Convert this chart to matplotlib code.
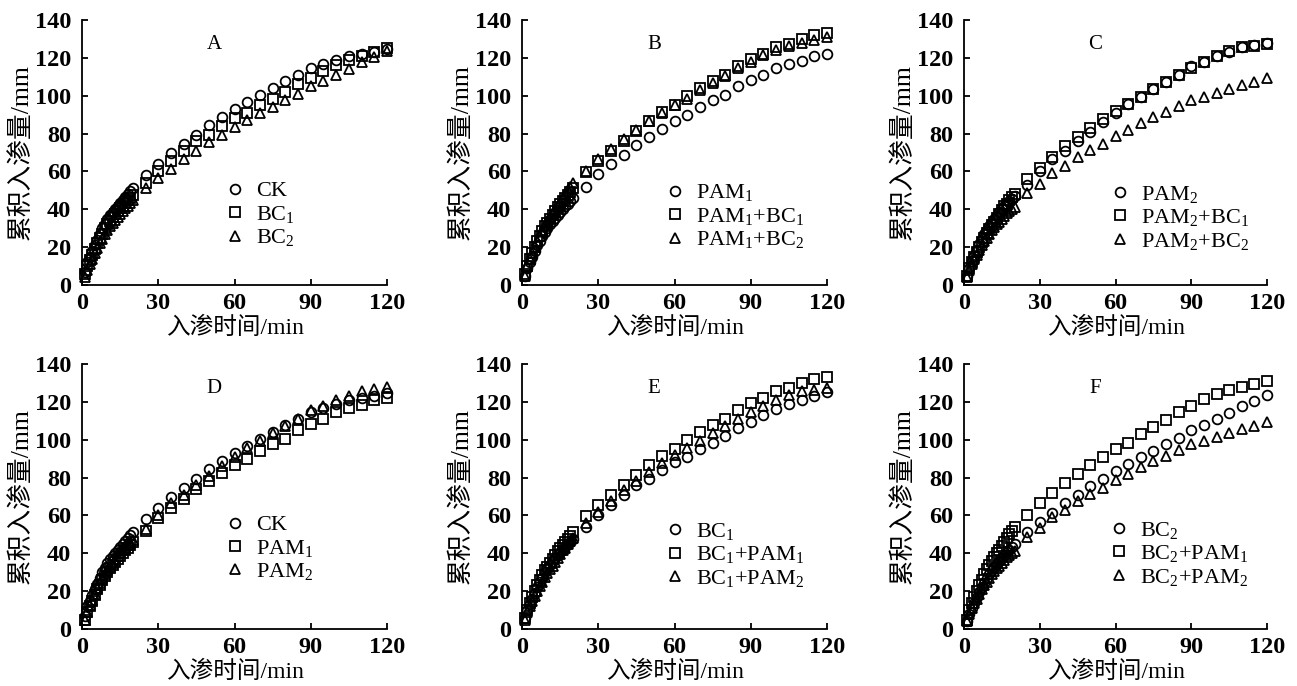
import matplotlib
matplotlib.use("Agg")
import matplotlib.pyplot as plt

plt.rcParams['font.family'] = ['Liberation Serif', 'Noto Sans CJK SC', 'DejaVu Sans']
plt.rcParams['mathtext.fontset'] = 'custom'
plt.rcParams['mathtext.rm'] = 'Liberation Serif'
plt.rcParams['mathtext.it'] = 'Liberation Serif'

# time (min)
t = [1, 2, 3, 4, 5, 6, 7, 8, 9, 10, 11, 12, 13, 14, 15, 16, 17, 18, 19, 20,
     25, 30, 35, 40, 45, 50, 55, 60, 65, 70, 75, 80, 85, 90, 95, 100, 105, 110, 115, 120]

# cumulative infiltration (mm)
CK = [7, 12, 15, 18, 21, 24, 27, 30, 32, 35, 37, 38.5, 40, 42, 43.5, 45, 46.5, 48, 49.5, 51,
      58, 64, 69.5, 74.7, 79.4, 84.4, 89, 93, 96.6, 100.6, 104, 108, 111, 114.4, 117, 119, 121, 122, 123, 124.5]
BC1 = [6, 10, 13, 16, 19, 22, 25, 27, 30, 32, 34, 36, 37.5, 39, 40.5, 42, 43.5, 45, 46, 47.5,
       54, 60, 65.5, 71, 76, 79.5, 84, 88, 91, 95, 98.5, 102, 106, 109.5, 113, 116, 119, 121, 123, 125]
BC2 = [4, 8, 11, 14, 17, 19.5, 22, 24.5, 27, 29, 31, 33, 34.5, 36, 37.5, 39, 40.5, 42, 43.5, 45,
       51, 56.5, 61.5, 66.5, 71, 75.5, 79.5, 83.5, 87, 91, 94, 97.5, 101, 105, 108, 111, 114, 118, 120.5, 123.5]
PAM1 = [5, 9, 12, 15, 18, 21, 23.5, 26, 28, 30, 32, 34, 35.5, 37, 38.5, 40, 41.5, 43, 44.5, 46,
        52, 58.8, 64, 68.5, 73.8, 78.2, 82.5, 86.5, 89.7, 94, 97.5, 100.6, 105, 108.2, 111.2, 114.4, 116.5, 118.6, 121, 121.8]
PAM2 = [5, 9, 12.5, 15.5, 18.5, 21.5, 24.5, 27, 29, 31, 33, 35, 36.5, 38.5, 40, 41.5, 43, 44.5, 45.5, 47,
        53, 60, 66.5, 71, 76, 81, 86, 91, 95.5, 99.5, 103.5, 107, 111, 115.5, 118, 121, 123, 126, 127, 128]
PAM1_BC1 = [6, 10, 14, 17, 20, 23, 26, 28.5, 31, 33, 35, 37, 39, 41, 43, 44.5, 46, 47.5, 49, 51,
            59.5, 65.7, 71, 76.3, 81.6, 86.5, 91.3, 95.3, 99.8, 104.2, 107.7, 111.2, 115.6, 119.2, 122.2, 126, 127.5, 130, 132, 133]
PAM1_BC2 = [5, 10, 14, 17, 20, 23, 26, 29, 31.5, 34, 36, 38, 40, 42, 44, 46, 48, 50, 52, 54,
            60, 66.5, 72, 77, 82, 86.5, 91, 95, 98.5, 103, 106.5, 110.5, 114.5, 118, 121.5, 124, 126.5, 128, 129.5, 131]
PAM2_BC1 = [5, 9, 12, 15, 17.5, 20, 22.5, 25, 27.5, 29.5, 31.5, 33.5, 35.5, 37.5, 39.5, 41.5, 43, 45, 46.5, 48,
            56, 62, 67.5, 73.5, 78, 83, 87.5, 92, 95.5, 99.5, 103.5, 107, 111, 114.5, 118, 121, 123.5, 125.5, 126.5, 127.5]
PAM2_BC2 = [4, 8, 11, 13.5, 16, 18.5, 21, 23, 25, 27, 29, 30.5, 32, 33.5, 35, 36.5, 38, 39, 40, 41,
            48.5, 53.5, 59, 63, 67.5, 71.5, 74.5, 78.5, 82, 85.5, 88.5, 91.5, 94.5, 97.5, 99.5, 101.5, 103.5, 105.5, 107.5, 109.5]

panel_letters = ['A', 'B', 'C', 'D', 'E', 'F']
panel_series = [
    [(CK, 'CK'), (BC1, r'BC$_1$'), (BC2, r'BC$_2$')],
    [(PAM1, r'PAM$_1$'), (PAM1_BC1, r'PAM$_1$+BC$_1$'), (PAM1_BC2, r'PAM$_1$+BC$_2$')],
    [(PAM2, r'PAM$_2$'), (PAM2_BC1, r'PAM$_2$+BC$_1$'), (PAM2_BC2, r'PAM$_2$+BC$_2$')],
    [(CK, 'CK'), (PAM1, r'PAM$_1$'), (PAM2, r'PAM$_2$')],
    [(BC1, r'BC$_1$'), (PAM1_BC1, r'BC$_1$+PAM$_1$'), (PAM2_BC1, r'BC$_1$+PAM$_2$')],
    [(BC2, r'BC$_2$'), (PAM1_BC2, r'BC$_2$+PAM$_1$'), (PAM2_BC2, r'BC$_2$+PAM$_2$')],
]
xticks = [0, 30, 60, 90, 120]
yticks = [0, 20, 40, 60, 80, 100, 120, 140]
xlabel = '入渗时间/min'
ylabel = '累积入渗量/mm'

markers = ['o', 's', '^']
W, H = 1297, 686
fig = plt.figure(figsize=(W / 100, H / 100), dpi=100)

lefts = [82, 522, 964]
widths = [305, 305, 303]
tops = [20, 364]
ah = 265
legend_pos = [(0.50, 0.358), (0.50, 0.352), (0.515, 0.347),
              (0.50, 0.396), (0.50, 0.373), (0.51, 0.377)]

for i in range(6):
    r, c = divmod(i, 3)
    ax = fig.add_axes([lefts[c] / W, 1 - (tops[r] + ah) / H, widths[c] / W, ah / H])
    for k, (vals, lab) in enumerate(panel_series[i]):
        ms = 7.6 if markers[k] == '^' else 7.0
        ax.plot(t, vals, linestyle='none', marker=markers[k], ms=ms, mfc='none',
                mec='black', mew=1.3, clip_on=False, label=lab)
    ax.set_xlim(0, 120)
    ax.set_ylim(0, 140)
    ax.set_xticks(xticks)
    ax.set_yticks(yticks)
    for s in ['top', 'right']:
        ax.spines[s].set_visible(False)
    for s in ['left', 'bottom']:
        ax.spines[s].set_linewidth(1.3)
    ax.tick_params(direction='in', length=4, width=1.3, labelsize=17.5)
    ax.tick_params(axis='x', pad=6)
    ax.tick_params(axis='y', pad=8)
    for lbl in ax.get_xticklabels() + ax.get_yticklabels():
        lbl.set_fontweight('bold')
    ax.set_xlabel(xlabel, fontsize=17, labelpad=2)
    ax.set_ylabel(ylabel, fontsize=18.5, labelpad=1)
    ax.text(52, 126.8, panel_letters[i], fontsize=15, ha='center', va='center')
    lx, ly = legend_pos[i]
    ax.legend(loc='upper left', frameon=False, fontsize=16, numpoints=1,
              handlelength=0.9, handletextpad=0.5, labelspacing=0.11,
              borderpad=0, borderaxespad=0,
              bbox_to_anchor=(lx - 0.032, ly + 0.035))

fig.savefig('out.png', dpi=100)
